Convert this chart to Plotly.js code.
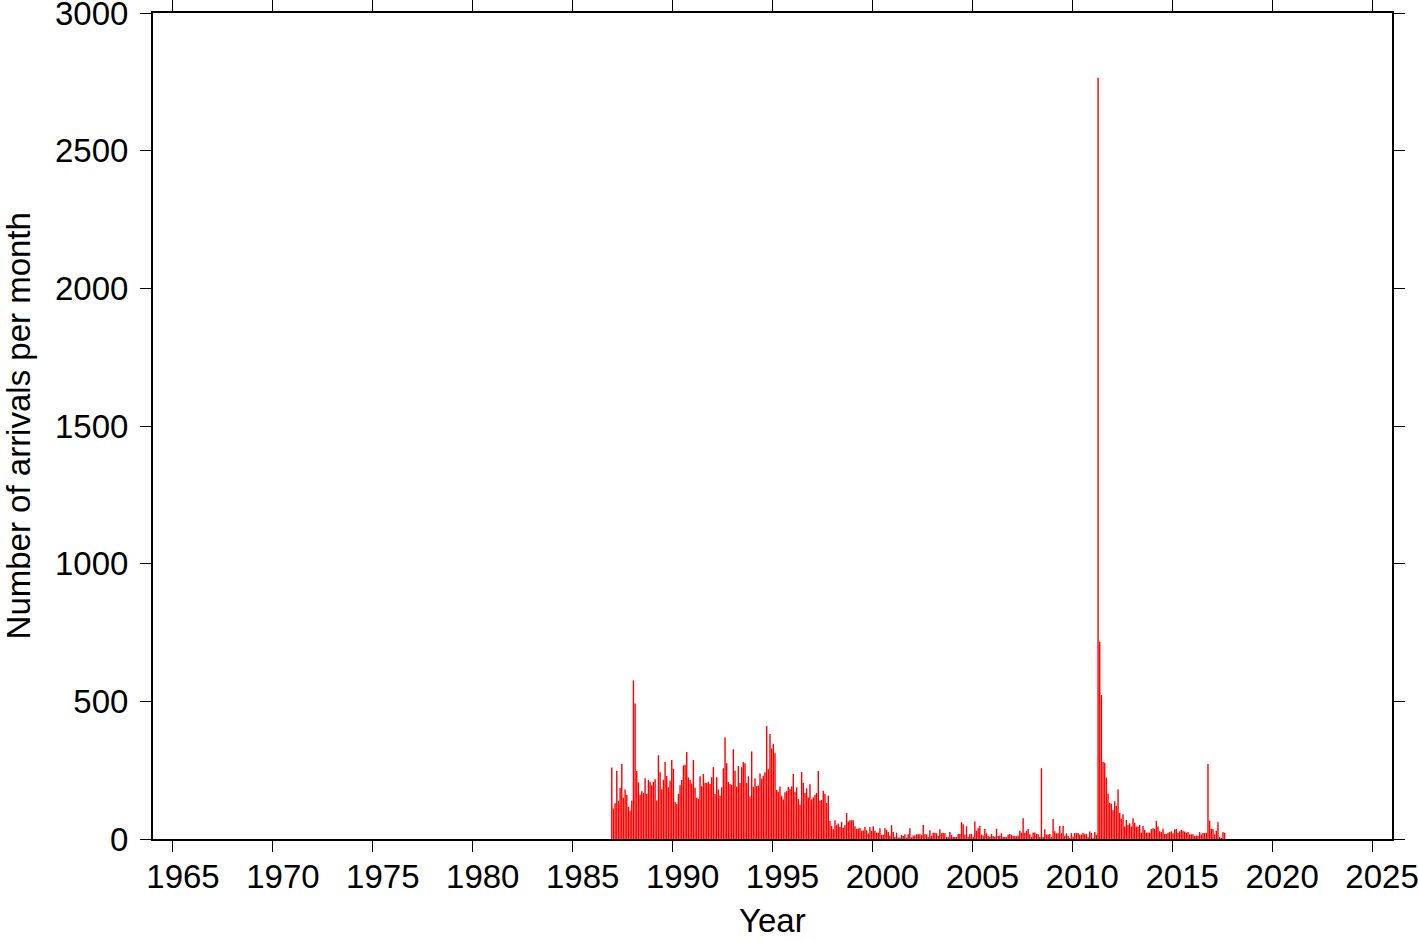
<!DOCTYPE html>
<html>
<head>
<meta charset="utf-8">
<script src="https://cdn.plot.ly/plotly-3.0.1.min.js"></script>
<style>
html,body{margin:0;padding:0;background:#fff;}
#chart{width:1419px;height:942px;}
</style>
</head>
<body>
<div id="chart"></div>
<script>
// First month of the monthly series (December 1986)
const startYear = 1986;
const startMonth = 12;

// Number of arrivals per month
const arrivals1987to1992 = [
  260,111,130,247,138,185,272,150,180,160,
  117,103,140,576,492,247,206,161,173,167,
  221,163,214,208,195,207,217,140,304,242,
  181,215,280,229,188,212,287,255,135,127,
  164,195,214,267,270,316,224,214,202,287,
  186,150,146,228,192,236,203,203,208,200,
  224,261,163,224,180,157,188,257
];
const arrivals1992to1997 = [
  369,275,207,200,196,326,248,190,265,203,
  261,280,275,204,228,154,318,190,220,192,
  194,238,219,230,242,410,253,381,329,346,
  311,178,172,191,157,144,170,174,189,182,
  191,236,172,188,145,125,243,204,167,184,
  151,199,144,151,161,167,247,139,142,175
];
const arrivals1997to2003 = [
  163,131,157,65,47,35,68,50,56,44,
  62,41,50,94,64,68,68,68,46,37,
  37,41,30,31,44,32,19,44,29,46,
  30,23,23,39,15,15,39,33,25,12,
  50,25,7,23,5,5,15,11,17,5,
  17,39,6,13,13,17,17,17,15,51,
  17,17,7,32,12,23,23,21,11
];
const arrivals2003to2009 = [
  35,21,22,21,7,7,25,15,7,7,
  7,18,18,61,54,15,46,7,18,18,
  7,64,30,39,47,16,13,36,21,11,
  8,18,11,8,37,11,13,21,7,7,
  7,15,18,15,11,11,10,13,30,23,
  75,23,30,36,17,7,24,24,18,17,
  7,257,7,35,16,16,18,7,73
];
const arrivals2009to2014 = [
  28,21,21,47,21,47,12,21,11,4,
  21,8,22,21,22,16,16,22,17,19,
  6,27,22,4,25,15,2765,716,523,280,
  277,223,164,131,128,104,137,120,180,94,
  74,90,45,69,51,57,45,75,59,45,
  45,51,23,47,33,23,23,23,36,39,
  36,66,45,28,25,37,18,18,23
];
const arrivals2014to2017 = [
  25,28,21,35,36,22,28,33,30,27,
  23,25,17,17,17,11,12,12,25,16,
  22,22,22,272,66,37,35,17,30,61,
  7,4,25,22
];

const xTickVals = [1965,1970,1975,1980,1985,1990,1995,2000,2005,2010,2015,2020,2025];
const yTickVals = [0,500,1000,1500,2000,2500,3000];
const xTitle = 'Year';
const yTitle = 'Number of arrivals per month';

const arrivals = [].concat(arrivals1987to1992, arrivals1992to1997, arrivals1997to2003,
                           arrivals2003to2009, arrivals2009to2014, arrivals2014to2017);
const months = arrivals.map((_, i) => startYear + (startMonth - 1 + i + 0.5) / 12);

const font = 'Liberation Sans, Arial, Helvetica, sans-serif';
const fs = 33;

const trace = {
  type: 'bar',
  x: months,
  y: arrivals,
  width: 0.85 / 12,
  marker: {color: 'rgb(255,0,0)', line: {width: 0}},
  hoverinfo: 'x+y'
};

const axisCommon = {
  showline: true, linewidth: 2, linecolor: '#000', mirror: 'ticks',
  ticks: 'outside', ticklen: 11, tickwidth: 1, tickcolor: '#000',
  showgrid: false, zeroline: false,
  ticklabeloverflow: 'allow',
  tickfont: {family: font, size: fs, color: '#000'}
};

const layout = {
  width: 1419, height: 942,
  margin: {l: 153, r: 27, t: 13, b: 103, pad: 0},
  paper_bgcolor: '#fff', plot_bgcolor: '#fff',
  showlegend: false,
  font: {family: font, color: '#000'},
  xaxis: Object.assign({}, axisCommon, {
    range: [1964, 2026], tickmode: 'array', tickvals: xTickVals,
    ticktext: xTickVals.map(String),
    ticklabelshift: 10,
    ticklabelstandoff: -4
  }),
  yaxis: Object.assign({}, axisCommon, {
    range: [0, 3000], tickmode: 'array', tickvals: yTickVals,
    ticktext: yTickVals.map(String),
    ticklabelstandoff: 5
  }),
  annotations: [
    {text: xTitle, xref: 'paper', yref: 'paper', x: 0.5, y: -0.0992,
     xanchor: 'center', yanchor: 'middle', showarrow: false,
     font: {family: font, size: fs, color: '#000'}},
    {text: yTitle, xref: 'paper', yref: 'paper', x: -0.1086, y: 0.5,
     xanchor: 'center', yanchor: 'middle', showarrow: false, textangle: -90,
     font: {family: font, size: fs, color: '#000'}}
  ]
};

Plotly.newPlot('chart', [trace], layout, {displayModeBar: false, staticPlot: true});
</script>
</body>
</html>
